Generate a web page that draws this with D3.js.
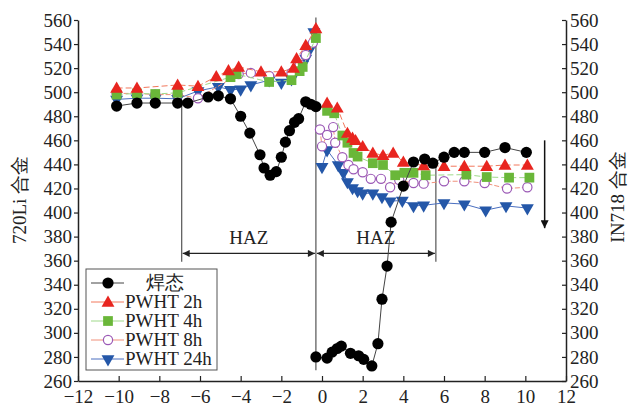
<!DOCTYPE html>
<html>
<head>
<meta charset="utf-8">
<script src="https://d3js.org/d3.v7.min.js"></script>
<style>
  body { margin: 0; background: #fff; }
  text { font-family: "Liberation Serif", "Times New Roman", serif; fill: #222; }
</style>
</head>
<body>
<div id="chart"></div>
<script>
// x = distance from weld centre (mm), y = hardness
const xTicks = d3.range(-12, 13, 2);
const yTicks = d3.range(260, 561, 20);

// 720Li side (left) and IN718 side (right) of each curve
const weldLeft = [[-10.1,488.5],[-9.1,491],[-8.2,491],[-7.1,491],[-6.6,491],[-5.6,496],[-5.1,497],
  [-4.5,494.5],[-4.0,480],[-3.55,466],[-3.05,448],[-2.85,437],[-2.55,431],[-2.25,434],[-2.0,446],
  [-1.8,458.5],[-1.6,468],[-1.35,475],[-1.15,478],[-0.8,492],[-0.55,490],[-0.3,488]];
const weldRight = [[-0.3,280],[0.25,279],[0.5,284],[0.75,287],[0.95,289],[1.4,283],[1.8,281],[2.05,278],
  [2.45,272.5],[2.75,291],[2.95,328],[3.2,355.5],[3.4,392],[4.0,422],[4.5,442],[5.05,444.5],[5.45,441],
  [6.0,446],[6.5,450],[7.0,450],[8.0,450],[9.0,454],[10.05,450]];

const h2Left = [[-10.1,503.5],[-9.1,503.5],[-7.1,506],[-6.1,505],[-5.2,513],[-4.6,518],[-4.1,521],[-3.0,517],
  [-2.0,517],[-1.4,520],[-1.25,528],[-0.8,539],[-0.3,553]];
const h2Right = [[0.25,491],[0.75,487],[1.25,466],[1.5,462],[1.65,460],[2.0,455],[2.5,449.5],[3.0,447.5],[3.5,449.5],
  [4.0,442],[5.0,439],[6.0,438.5],[7.0,438.5],[8.1,438.5],[9.0,439.5],[10.1,439.5]];

const h4Left = [[-10.1,498],[-9.1,499],[-8.2,498.5],[-7.1,499.5],[-4.5,512.5],[-4.2,515],[-2.6,508.5],
  [-1.5,510],[-1.1,517.5],[-0.95,521],[-0.3,545]];
const h4Right = [[0.25,484.5],[0.6,482.5],[1.0,464],[1.25,458],[1.55,449.5],[1.75,446.5],[2.5,441],[3.0,439.5],
  [3.6,431],[4.05,433],[4.5,433],[5.1,431],[7.1,431.5],[8.1,429.5],[9.2,429],[10.2,429]];

const h8Left = [[-10.1,499],[-9.1,499],[-8.2,498],[-7.1,498],[-6.1,495],[-4.1,515],[-3.5,516],[-2.6,513.5],
  [-1.5,516],[-1.1,523],[-0.8,531],[-0.45,541]];
const h8Right = [[-0.1,469],[0.0,455],[0.25,464.5],[0.55,471],[0.65,458],[1.0,446],[1.3,439.5],[1.55,436],[2.0,433.5],
  [2.4,428],[2.9,428],[3.35,421],[3.8,427],[4.5,424.5],[5.0,424],[6.0,426],[7.0,426],[8.0,424.5],
  [9.1,420],[10.1,421]];

const h24Left = [[-10.1,494],[-9.1,495],[-8.2,495],[-7.1,494.5],[-6.1,501],[-5.1,504.5],[-4.5,502],[-4.0,502.5],
  [-3.5,506],[-2.6,510],[-2.0,508],[-1.5,511],[-0.95,523],[-0.8,528],[-0.55,537],[-0.4,550]];
const h24Right = [[0.0,438],[0.25,452],[0.8,439.5],[1.05,433],[1.25,425.5],[1.5,420.5],[1.75,418],[2.0,416],[2.5,416],
  [2.95,413],[3.35,409.5],[3.95,410],[4.5,405.5],[5.0,406],[6.0,408],[7.0,407],[8.05,402],[9.05,405.5],
  [10.1,403.7]];

const legendLabels = ["焊态", "PWHT 2h", "PWHT 4h", "PWHT 8h", "PWHT 24h"];

// reference lines
const centreX = -0.3, hazLeftX = -6.9, hazRightX = 5.6, hazY = 366;

const W = 632, H = 408;
const svg = d3.select("#chart").append("svg").attr("width", W).attr("height", H);

const x = d3.scaleLinear().domain([-12, 12]).range([78, 566]);
const y = d3.scaleLinear().domain([260, 560]).range([381, 20]);

// axes
svg.append("g")
  .attr("transform", "translate(78,0)")
  .call(d3.axisLeft(y).tickValues(yTicks).tickSize(4).tickSizeOuter(0).tickPadding(2))
  .call(g => g.selectAll("text").style("font-size", "19px").attr("font-family", "Liberation Serif"));
svg.append("g")
  .attr("transform", "translate(566,0)")
  .call(d3.axisRight(y).tickValues(yTicks).tickSize(-4).tickSizeOuter(0).tickPadding(4))
  .call(g => g.selectAll("text").style("font-size", "19px").attr("font-family", "Liberation Serif"));
svg.append("g")
  .attr("transform", "translate(0,381)")
  .call(d3.axisBottom(x).tickValues(xTicks).tickSize(-5).tickSizeOuter(0).tickPadding(9))
  .call(g => g.selectAll("text").style("font-size", "19px").attr("font-family", "Liberation Serif"));
svg.selectAll(".domain").attr("stroke", "#222").attr("stroke-width", 1.5);
svg.selectAll(".tick line").attr("stroke", "#222").attr("stroke-width", 1.2);
svg.selectAll(".tick text").attr("fill", "#222");

svg.append("text").attr("transform", "translate(26,200) rotate(-90)")
  .attr("text-anchor", "middle").style("font-size", "19px").text("720Li 合金");
svg.append("text").attr("transform", "translate(624,197) rotate(-90)")
  .attr("text-anchor", "middle").style("font-size", "19px").text("IN718 合金");

// vertical guide lines
const guide = svg.append("g").attr("stroke", "#555").attr("stroke-width", 1.2);
guide.append("line").attr("x1", x(centreX)).attr("x2", x(centreX)).attr("y1", y(562)).attr("y2", y(269));
guide.append("line").attr("x1", x(hazLeftX)).attr("x2", x(hazLeftX)).attr("y1", y(491)).attr("y2", y(359));
guide.append("line").attr("x1", x(hazRightX)).attr("x2", x(hazRightX)).attr("y1", y(440)).attr("y2", y(359));

// HAZ arrows
const defs = svg.append("defs");
defs.append("marker").attr("id", "ah").attr("viewBox", "0 0 10 10").attr("refX", 10).attr("refY", 5)
  .attr("markerWidth", 9).attr("markerHeight", 7).attr("markerUnits", "userSpaceOnUse").attr("orient", "auto-start-reverse")
  .append("path").attr("d", "M0,0 L10,5 L0,10 Z").attr("fill", "#222");
[[hazLeftX, centreX], [centreX, hazRightX]].forEach(([a, b]) => {
  svg.append("line").attr("x1", x(a) + 1).attr("x2", x(b) - 1).attr("y1", y(hazY)).attr("y2", y(hazY))
    .attr("stroke", "#222").attr("stroke-width", 1.2)
    .attr("marker-start", "url(#ah)").attr("marker-end", "url(#ah)");
  svg.append("text").attr("x", x((a + b) / 2)).attr("y", y(hazY) - 9)
    .attr("text-anchor", "middle").style("font-size", "19px").text("HAZ");
});

// downward arrow on right
defs.append("marker").attr("id", "ad").attr("viewBox", "0 0 10 10").attr("refX", 10).attr("refY", 5)
  .attr("markerWidth", 12).attr("markerHeight", 8).attr("markerUnits", "userSpaceOnUse").attr("orient", "auto")
  .append("path").attr("d", "M0,0 L10,5 L0,10 Z").attr("fill", "#111");
svg.append("line").attr("x1", x(10.95)).attr("x2", x(10.95)).attr("y1", y(460)).attr("y2", y(387))
  .attr("stroke", "#111").attr("stroke-width", 1.5).attr("marker-end", "url(#ad)");

// series
const line = d3.line().x(d => x(d[0])).y(d => y(d[1]));
const triUp = d3.symbol().type(d3.symbolTriangle).size(72)();
const square = d3.symbol().type(d3.symbolSquare).size(95)();

const series = [
  {data: [h24Left, h24Right], line: "#4a6fc0", dash: null, draw: g => g.append("path").attr("d", triUp).attr("transform", "rotate(180)").attr("fill", "#2457a8")},
  {data: [h8Left, h8Right], line: "#f0907a", dash: "5,2", draw: g => g.append("circle").attr("r", 4.6).attr("fill", "#fff").attr("stroke", "#9b59b6").attr("stroke-width", 1.2)},
  {data: [h4Left, h4Right], line: "#9fd98a", dash: "6,3", draw: g => g.append("path").attr("d", square).attr("fill", "#6ab739")},
  {data: [h2Left, h2Right], line: "#f2785c", dash: "6,3", draw: g => g.append("path").attr("d", triUp).attr("transform", "translate(0,1)").attr("fill", "#e8251f")},
  {data: [weldLeft, weldRight], line: "#444", dash: null, draw: g => g.append("circle").attr("r", 5.6).attr("fill", "#000")}
];

series.forEach(s => {
  s.data.forEach(arr => {
    svg.append("path").datum(arr).attr("d", line).attr("fill", "none")
      .attr("stroke", s.line).attr("stroke-width", 1).attr("stroke-dasharray", s.dash);
  });
  s.data.forEach(arr => {
    svg.append("g").selectAll("g").data(arr).join("g")
      .attr("transform", d => `translate(${x(d[0])},${y(d[1])})`)
      .each(function() { s.draw(d3.select(this)); });
  });
});

// legend
const lg = svg.append("g");
lg.append("rect").attr("x", 86).attr("y", 269).attr("width", 131).attr("height", 101)
  .attr("fill", "#fff").attr("stroke", "#555").attr("stroke-width", 1);
const order = [4, 3, 2, 1, 0];
order.forEach((si, i) => {
  const s = series[si];
  const yy = 283 + i * 19;
  lg.append("line").attr("x1", 91).attr("x2", 124).attr("y1", yy).attr("y2", yy)
    .attr("stroke", s.line).attr("stroke-width", 1);
  const m = lg.append("g").attr("transform", `translate(108,${yy})`);
  s.draw(m);
  const t = lg.append("text").attr("y", yy + 6).style("font-size", "19px").text(legendLabels[i]);
  if (i === 0) t.attr("x", 165).attr("text-anchor", "middle");
  else t.attr("x", 125);
});
</script>
</body>
</html>
